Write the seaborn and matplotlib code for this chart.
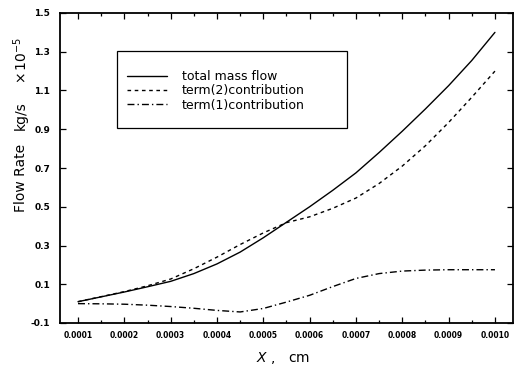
import matplotlib
matplotlib.use("Agg")
import matplotlib.pyplot as plt
from matplotlib.patches import Rectangle
from matplotlib.ticker import MultipleLocator
import seaborn as sns

# Position along the channel (cm)
x_cm = [0.0001, 0.00015, 0.0002, 0.00025, 0.0003, 0.00035, 0.0004, 0.00045,
        0.0005, 0.00055, 0.0006, 0.00065, 0.0007, 0.00075, 0.0008, 0.00085,
        0.0009, 0.00095, 0.0010]

# Flow rates in units of 1e-5 kg/s
total_mass_flow = [0.010, 0.035, 0.060, 0.087, 0.115, 0.155, 0.205, 0.266,
                   0.340, 0.420, 0.500, 0.585, 0.675, 0.780, 0.890, 1.005,
                   1.125, 1.255, 1.400]
term2_contribution = [0.010, 0.036, 0.062, 0.092, 0.127, 0.180, 0.240, 0.305,
                      0.365, 0.418, 0.448, 0.492, 0.545, 0.620, 0.710, 0.815,
                      0.935, 1.065, 1.200]
term1_contribution = [0.000, -0.001, -0.003, -0.008, -0.015, -0.024, -0.035, -0.043,
                      -0.025, 0.008, 0.043, 0.088, 0.130, 0.155, 0.168, 0.173,
                      0.175, 0.175, 0.175]

series_labels = ["total mass flow", "term(2)contribution", "term(1)contribution"]
x_ticks = [0.0001, 0.0002, 0.0003, 0.0004, 0.0005, 0.0006, 0.0007, 0.0008, 0.0009, 0.0010]
x_tick_labels = ["0.0001", "0.0002", "0.0003", "0.0004", "0.0005",
                 "0.0006", "0.0007", "0.0008", "0.0009", "0.0010"]
y_ticks = [-0.1, 0.1, 0.3, 0.5, 0.7, 0.9, 1.1, 1.3, 1.5]
y_tick_labels = ["-0.1", "0.1", "0.3", "0.5", "0.7", "0.9", "1.1", "1.3", "1.5"]

sns.set_theme(style="ticks")
plt.rcParams["font.family"] = ["DejaVu Sans"]
plt.rcParams["text.color"] = "black"

W, H = 515, 372
fig = plt.figure(figsize=(W / 100, H / 100), dpi=100)
ax = fig.add_axes([60 / W, 49 / H, 453 / W, 310 / H])

sns.lineplot(x=x_cm, y=total_mass_flow, ax=ax, color="black", lw=1.0,
             linestyle="-", label=series_labels[0])
sns.lineplot(x=x_cm, y=term2_contribution, ax=ax, color="black", lw=1.0,
             linestyle=(0, (2.6, 2.6)), label=series_labels[1])
sns.lineplot(x=x_cm, y=term1_contribution, ax=ax, color="black", lw=1.0,
             linestyle=(0, (5, 2.2, 1, 2.2)), label=series_labels[2])

ax.set_xlim(0.0000611, 0.001039)
ax.set_ylim(-0.1, 1.5)

ax.set_xticks(x_ticks)
ax.set_xticklabels(x_tick_labels)
ax.xaxis.set_minor_locator(MultipleLocator(0.00005))
ax.set_yticks(y_ticks)
ax.set_yticklabels(y_tick_labels)

ax.tick_params(which="both", direction="in", top=True, right=True,
               color="black", width=0.9)
ax.tick_params(which="major", length=4)
ax.tick_params(which="minor", length=2)
ax.tick_params(axis="x", labelsize=5.5, pad=6, labelcolor="black")
ax.tick_params(axis="y", labelsize=6.5, pad=7, labelcolor="black")
for lbl in ax.get_xticklabels() + ax.get_yticklabels():
    lbl.set_fontweight("bold")

for s in ax.spines.values():
    s.set_linewidth(1.3)
    s.set_color("black")

ax.set_xlabel("")
ax.set_ylabel("")

# Axis titles
fig.text(21 / W, 1 - 178 / H, "Flow Rate", rotation=90, ha="center", va="center",
         fontsize=10, color="black")
fig.text(21 / W, 1 - 116 / H, "kg/s", rotation=90, ha="center", va="center",
         fontsize=10, color="black")
fig.text(21 / W, 1 - 60 / H, r"$\mathregular{\times\,10^{-5}}$", rotation=90,
         ha="center", va="center", fontsize=10, color="black")
fig.text(283 / W, 1 - 358 / H, r"$X$ ,   cm", ha="center", va="center",
         fontsize=10, color="black")

# Legend with its own frame
leg = ax.legend(loc="upper left", bbox_to_anchor=((127 - 60) / 453, (323 - 70) / 310),
                frameon=False, fontsize=9, handlelength=3.2, handletextpad=1.2,
                labelspacing=0.1, borderpad=0, borderaxespad=0)
for line in leg.get_lines():
    line.set_linewidth(1.0)
for t in leg.get_texts():
    t.set_color("black")
frame = Rectangle(((117 - 60) / 453, (323 - 128) / 310), (347 - 117) / 453, 77 / 310,
                  transform=ax.transAxes, fill=False, edgecolor="black", lw=0.9, clip_on=False)
ax.add_patch(frame)

fig.savefig("out.png", dpi=100)
